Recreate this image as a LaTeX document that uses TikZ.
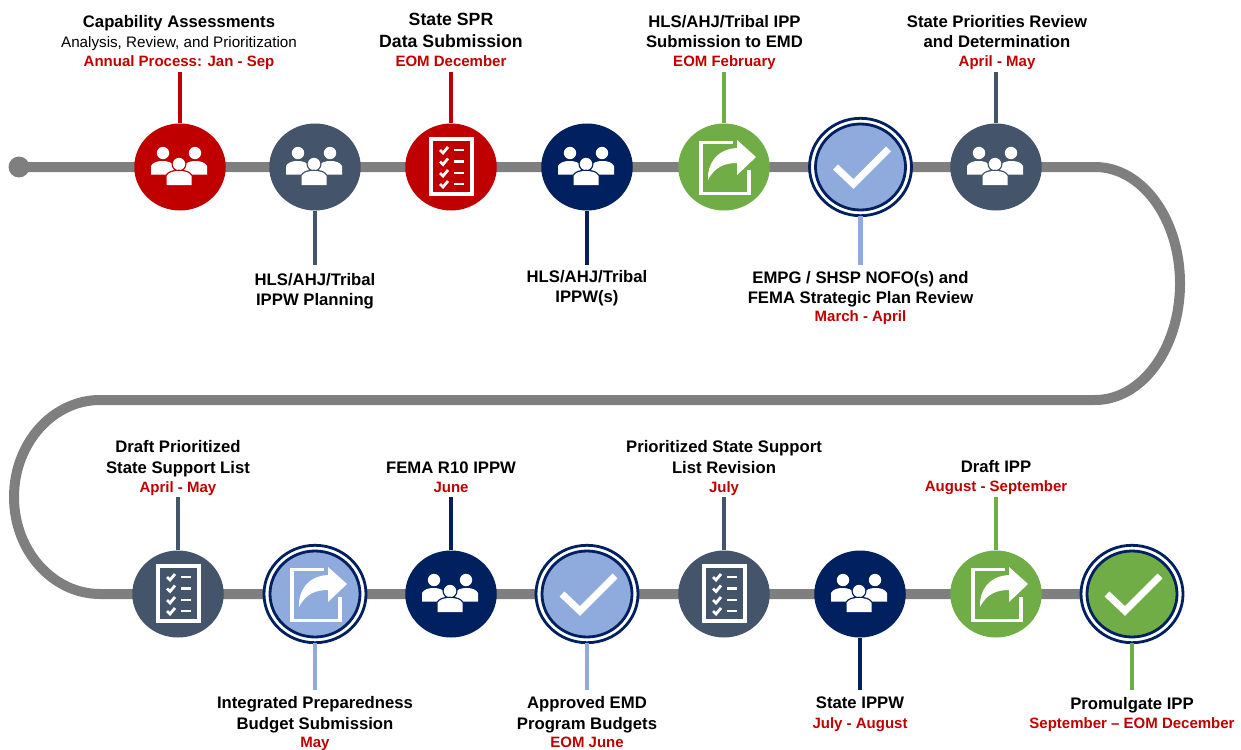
\documentclass[tikz,border=0pt]{standalone}
\usepackage{fontspec}
\usetikzlibrary{shapes.geometric}
\setmainfont{Liberation Sans}
\definecolor{cred}{HTML}{C00000}
\definecolor{cslate}{HTML}{44546A}
\definecolor{cnavy}{HTML}{002060}
\definecolor{cgreen}{HTML}{70AD47}
\definecolor{clight}{HTML}{8FAADC}
\definecolor{cgrey}{HTML}{7F7F7F}
\newcommand{\hd}[1]{{\fontsize{16.7}{20.5}\selectfont\bfseries #1}}
\newcommand{\hdb}[1]{{\fontsize{17.7}{21}\selectfont\bfseries #1}}
\newcommand{\sm}[1]{{\fontsize{15.2}{19}\selectfont #1}}
\newcommand{\rd}[1]{{\fontsize{15}{19}\selectfont\bfseries\color{cred} #1\vphantom{y}}}
\newcommand{\bodyshape}[4]{% x-left x-right y-top y-bottom
  (#1,#4) -- (#1,#3+5) .. controls (#1+2,#3+1.5) and (#1+6,#3) .. (#1/2+#2/2,#3) .. controls (#2-6,#3) and (#2-2,#3+1.5) .. (#2,#3+5) -- (#2,#4) -- cycle}
\newcommand{\iconpeople}[2]{%
\begin{scope}[shift={(#1.center)}]
  \fill[white] (-17,-14) circle (6.2) (15,-14) circle (6.2);
  \fill[white] \bodyshape{-29}{-6}{-6}{7.5};
  \fill[white] \bodyshape{4}{27}{-6}{7.5};
  \draw[#2,line width=2.6] (-1,-3) circle (6.2);
  \fill[white] (-1,-3) circle (6.2);
  \draw[#2,line width=2.6] \bodyshape{-13.5}{11.5}{4}{18};
  \fill[white] \bodyshape{-13.5}{11.5}{4}{18};
\end{scope}}
\newcommand{\iconlist}[1]{%
\begin{scope}[shift={(#1.center)}]
  \draw[white,line width=3.6] (-20,-28) rectangle (21,27);
  \foreach \yy in {-17,-5.5,6,17}{
    \draw[white,line width=2.8] (-11,\yy) -- (-8,\yy+3) -- (-3,\yy-3);
    \draw[white,line width=2.6] (3,\yy) -- (13,\yy);
  }
\end{scope}}
\newcommand{\iconshare}[1]{%
\begin{scope}[shift={(#1.center)}]
  \draw[white,line width=3.8] (9,-24.5) -- (-23,-24.5) -- (-23,26.5) -- (25,26.5) -- (25,3);
  \fill[white] (32,-10) -- (13,-27) -- (13,-19) .. controls (-8,-18) and (-17,-2) .. (-16,13) .. controls (-9,-1) and (2,-4) .. (13,-4) -- (13,8) -- cycle;
\end{scope}}
\newcommand{\iconcheck}[1]{%
\begin{scope}[shift={(#1.center)}]
  \draw[white,line width=7] (-25,0) -- (-7,17) -- (28,-18);
\end{scope}}
\tikzset{
  disc/.style={ellipse,minimum width=91.5pt,minimum height=87pt,inner sep=0pt,fill=#1},
  ringdisc/.style={ellipse,minimum width=90pt,minimum height=86pt,inner sep=0pt,fill=#1,draw=cnavy,line width=2.8pt},
  lab/.style={align=center,inner xsep=2pt,inner ysep=2pt,outer sep=0pt,text=black,font=\fontsize{16.7}{20.5}\selectfont},
  stem/.style={line width=4.5pt,#1},
  track/.style={cgrey,line width=10pt},
  outerring/.style={fill=white,draw=cnavy,line width=2.8pt},
}
\begin{document}
\begin{tikzpicture}[x=1pt,y=-1pt]
\useasboundingbox (0,0) rectangle (1241,749);
% track
\coordinate (trackstart) at (19,167);
\coordinate (trackend) at (1132,594);
\fill[cgrey] (trackstart) circle (10.5);
\draw[track] (trackstart) -- (1095,167)
  .. controls (1142,167) and (1180,219) .. (1180,283.5)
  .. controls (1180,348) and (1142,400) .. (1095,400)
  -- (100,400)
  .. controls (53,400) and (14,443) .. (14,497)
  .. controls (14,551) and (53,594) .. (100,594)
  -- (trackend);
% rings
\filldraw[outerring] (860.5,167) ellipse [x radius=51,y radius=48.7];
\filldraw[outerring] (315,594) ellipse [x radius=51,y radius=48.7];
\filldraw[outerring] (587,594) ellipse [x radius=51,y radius=48.7];
\filldraw[outerring] (1132,594) ellipse [x radius=51,y radius=48.7];
% circles
\node[disc=cred] (t1) at (180,167) {};
\node[disc=cslate] (t2) at (315,167) {};
\node[disc=cred] (t3) at (451,167) {};
\node[disc=cnavy] (t4) at (587,167) {};
\node[disc=cgreen] (t5) at (724,167) {};
\node[ringdisc=clight] (t6) at (860.5,167) {};
\node[disc=cslate] (t7) at (996,167) {};
\node[disc=cslate] (b1) at (178,594) {};
\node[ringdisc=clight] (b2) at (315,594) {};
\node[disc=cnavy] (b3) at (451,594) {};
\node[ringdisc=clight] (b4) at (587,594) {};
\node[disc=cslate] (b5) at (724,594) {};
\node[disc=cnavy] (b6) at (860,594) {};
\node[disc=cgreen] (b7) at (996,594) {};
\node[ringdisc=cgreen] (b8) at (1132,594) {};
% icons
\iconpeople{t1}{cred}\iconpeople{t2}{cslate}\iconlist{t3}\iconpeople{t4}{cnavy}
\iconshare{t5}\iconcheck{t6}\iconpeople{t7}{cslate}
\iconlist{b1}\iconshare{b2}\iconpeople{b3}{cnavy}\iconcheck{b4}\iconlist{b5}
\iconpeople{b6}{cnavy}\iconshare{b7}\iconcheck{b8}
% labels
\node[lab,anchor=south] (lt1) at (179,72) {\hd{Capability Assessments}\\\sm{Analysis, Review, and Prioritization}\\[-1.5pt]\rd{Annual Process: Jan - Sep}};
\node[lab,anchor=south] (lt3) at (451,72) {\hdb{State SPR}\\[2pt]\hdb{Data Submission}\\[-1.5pt]\rd{EOM December}};
\node[lab,anchor=south] (lt5) at (724.5,72) {\hd{HLS/AHJ/Tribal IPP}\\\hd{Submission to EMD}\\[-1.5pt]\rd{EOM February}};
\node[lab,anchor=south] (lt7) at (997,72) {\hd{State Priorities Review}\\\hd{and Determination}\\[-1.5pt]\rd{April - May}};
\node[lab,anchor=north,inner ysep=8pt] (lt2) at (315,265) {\hd{HLS/AHJ/Tribal}\\\hd{IPPW Planning}};
\node[lab,anchor=north,inner ysep=5pt] (lt4) at (587,265) {\hd{HLS/AHJ/Tribal}\\\hd{IPPW(s)}};
\node[lab,anchor=north,inner ysep=6pt] (lt6) at (860.5,265) {\hd{EMPG / SHSP NOFO(s) and}\\\hd{FEMA Strategic Plan Review}\\[-2.5pt]\rd{March - April}};
\node[lab,anchor=south,inner ysep=1.5pt] (lb1) at (178,497) {\hd{Draft Prioritized}\\\hd{State Support List}\\[-1.5pt]\rd{April - May}};
\node[lab,anchor=south,inner ysep=1.5pt] (lb3) at (451,497) {\hd{FEMA R10 IPPW}\\[-1.5pt]\rd{June}};
\node[lab,anchor=south,inner ysep=1.5pt] (lb5) at (724,497) {\hd{Prioritized State Support}\\\hd{List Revision}\\[-1.5pt]\rd{July}};
\node[lab,anchor=south,inner ysep=2pt] (lb7) at (996,497) {\hd{Draft IPP}\\[-1.5pt]\rd{August - September}};
\node[lab,anchor=north,inner ysep=6.5pt] (lb2) at (315,690) {\hd{Integrated Preparedness}\\\hd{Budget Submission}\\[-2.5pt]\rd{May}};
\node[lab,anchor=north,inner ysep=6.5pt] (lb4) at (587,690) {\hd{Approved EMD}\\\hd{Program Budgets}\\[-2.5pt]\rd{EOM June}};
\node[lab,anchor=north,inner ysep=7pt] (lb6) at (860,690) {\hd{State IPPW}\\[-1pt]\rd{July - August}};
\node[lab,anchor=north,inner ysep=7pt] (lb8) at (1132,690) {\hd{Promulgate IPP}\\[-1.5pt]\rd{September – EOM December}};
% stems
\coordinate (t6s) at ([yshift=-49pt]t6.center);
\coordinate (b2s) at ([yshift=-49pt]b2.center);
\coordinate (b4s) at ([yshift=-49pt]b4.center);
\coordinate (b8s) at ([yshift=-49pt]b8.center);
\draw[stem=cred] (t1.north) -- (t1.north |- lt1.south);
\draw[stem=cslate] (t2.south) -- (t2.south |- lt2.north);
\draw[stem=cred] (t3.north) -- (t3.north |- lt3.south);
\draw[stem=cnavy] (t4.south) -- (t4.south |- lt4.north);
\draw[stem=cgreen] (t5.north) -- (t5.north |- lt5.south);
\draw[stem=clight] (t6s) -- (t6s |- lt6.north);
\draw[stem=cslate] (t7.north) -- (t7.north |- lt7.south);
\draw[stem=cslate] (b1.north) -- (b1.north |- lb1.south);
\draw[stem=clight] (b2s) -- (b2s |- lb2.north);
\draw[stem=cnavy] (b3.north) -- (b3.north |- lb3.south);
\draw[stem=clight] (b4s) -- (b4s |- lb4.north);
\draw[stem=cslate] (b5.north) -- (b5.north |- lb5.south);
\draw[stem=cnavy] (b6.south) -- (b6.south |- lb6.north);
\draw[stem=cgreen] (b7.north) -- (b7.north |- lb7.south);
\draw[stem=cgreen] (b8s) -- (b8s |- lb8.north);
\end{tikzpicture}
\end{document}
